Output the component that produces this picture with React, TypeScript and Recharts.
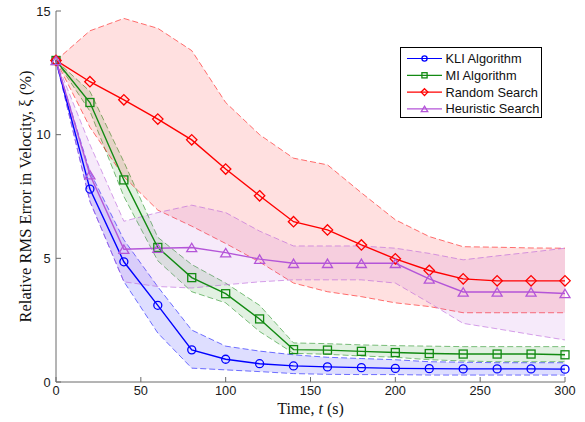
import React from 'react';
import { ComposedChart, Area, Line, XAxis, YAxis, Legend, Label } from 'recharts';

const time = [0, 20, 40, 60, 80, 100, 120, 140, 160, 180, 200, 220, 240, 260, 280, 300];

const kliMean = [13.0, 7.8, 4.86, 3.1, 1.3, 0.92, 0.74, 0.65, 0.61, 0.58, 0.55, 0.54, 0.53, 0.53, 0.53, 0.52];
const kliLow = [13.0, 7.3, 4.06, 1.98, 0.56, 0.49, 0.42, 0.34, 0.31, 0.3, 0.3, 0.28, 0.28, 0.28, 0.28, 0.28];
const kliHigh = [13.0, 8.5, 5.75, 3.85, 2.1, 1.45, 1.25, 1.1, 1.0, 0.95, 0.9, 0.82, 0.8, 0.78, 0.78, 0.78];

const miMean = [13.0, 11.3, 8.17, 5.44, 4.22, 3.57, 2.55, 1.31, 1.29, 1.24, 1.19, 1.15, 1.13, 1.13, 1.13, 1.1];
const miLow = [13.0, 10.95, 7.5, 4.9, 3.65, 3.2, 2.04, 1.16, 1.12, 1.05, 1.0, 0.9, 0.85, 0.82, 0.82, 0.82];
const miHigh = [13.0, 11.75, 8.9, 5.85, 4.75, 4.0, 3.1, 1.58, 1.55, 1.5, 1.47, 1.45, 1.43, 1.43, 1.43, 1.43];

const rndMean = [13.0, 12.14, 11.41, 10.63, 9.79, 8.61, 7.53, 6.48, 6.15, 5.54, 4.98, 4.51, 4.17, 4.09, 4.09, 4.09];
const rndLow = [13.0, 10.3, 8.3, 6.95, 6.3, 5.6, 4.85, 4.0, 3.65, 3.45, 3.2, 3.05, 2.8, 2.8, 2.8, 2.8];
const rndHigh = [13.0, 14.2, 14.7, 14.3, 13.4, 11.3, 10.0, 9.05, 8.78, 7.65, 6.56, 5.88, 5.47, 5.45, 5.42, 5.41];

const heuMean = [13.0, 8.38, 5.37, 5.41, 5.44, 5.23, 4.97, 4.8, 4.8, 4.8, 4.8, 4.17, 3.64, 3.64, 3.64, 3.58];
const heuLow = [13.0, 7.3, 4.05, 3.86, 3.8, 3.93, 4.05, 4.13, 4.13, 4.13, 4.0, 3.2, 2.37, 2.15, 1.92, 1.7];
const heuHigh = [13.0, 9.6, 6.5, 6.85, 7.15, 6.85, 6.1, 5.5, 5.5, 5.5, 5.41, 5.2, 4.94, 5.1, 5.25, 5.41];

const xTicks = [0, 50, 100, 150, 200, 250, 300];
const yTicks = [0, 5, 10, 15];

const seriesNames = ['KLI Algorithm', 'MI Algorithm', 'Random Search', 'Heuristic Search'];

const data = time.map((t, i) => ({
  t,
  kli: kliMean[i],
  kliBand: [kliLow[i], kliHigh[i]],
  mi: miMean[i],
  miBand: [miLow[i], miHigh[i]],
  rnd: rndMean[i],
  rndBand: [rndLow[i], rndHigh[i]],
  heu: heuMean[i],
  heuBand: [heuLow[i], heuHigh[i]],
}));

const series = [
  { key: 'kli', name: seriesNames[0], color: '#0000FF', fillOpacity: 0.13, marker: 'circle' },
  { key: 'mi', name: seriesNames[1], color: '#138A13', fillOpacity: 0.12, marker: 'square' },
  { key: 'rnd', name: seriesNames[2], color: '#FF0000', fillOpacity: 0.12, marker: 'diamond' },
  { key: 'heu', name: seriesNames[3], color: '#B455D8', fillOpacity: 0.12, marker: 'triangle' },
];

function Marker({ shape, cx, cy, color, s = 1 }: any) {
  if (cx == null || cy == null) return null;
  const sw = 1.3;
  if (shape === 'circle') {
    return <circle cx={cx} cy={cy} r={4 * s} fill="none" stroke={color} strokeWidth={sw} />;
  }
  if (shape === 'square') {
    const h = 4 * s;
    return <rect x={cx - h} y={cy - h} width={2 * h} height={2 * h} fill="none" stroke={color} strokeWidth={sw} />;
  }
  if (shape === 'diamond') {
    const d = 5.2 * s;
    return (
      <polygon
        points={`${cx},${cy - d} ${cx + d},${cy} ${cx},${cy + d} ${cx - d},${cy}`}
        fill="none"
        stroke={color}
        strokeWidth={sw}
      />
    );
  }
  const w = 5 * s;
  const hh = 4.2 * s;
  return (
    <polygon
      points={`${cx},${cy - hh} ${cx + w},${cy + hh} ${cx - w},${cy + hh}`}
      fill="none"
      stroke={color}
      strokeWidth={sw}
    />
  );
}

function LegendBox() {
  const rowH = 16.8;
  return (
    <div
      style={{
        width: 142,
        height: 71,
        border: '1px solid #000',
        background: '#fff',
        boxSizing: 'border-box',
      }}
    >
      <svg width={141} height={70} style={{ display: 'block' }}>
        {series.map((s, i) => {
          const y = 10.5 + i * rowH;
          return (
            <g key={s.key}>
              <line x1={6} x2={41} y1={y} y2={y} stroke={s.color} strokeWidth={1.2} />
              <Marker shape={s.marker} cx={23.5} cy={y} color={s.color} s={0.65} />
              <text
                x={44.5}
                y={y}
                dominantBaseline="central"
                fontFamily="'Liberation Sans', Arial, sans-serif"
                fontSize={12.8}
                fill="#111"
              >
                {s.name}
              </text>
            </g>
          );
        })}
      </svg>
    </div>
  );
}

const tickStyle = { fontFamily: "'Liberation Sans', Arial, sans-serif", fontSize: 12.8, fill: '#1a1a1a' };
const titleFont = "'Liberation Serif', 'Times New Roman', serif";

export default function App() {
  return (
    <div style={{ position: 'absolute', left: 0, top: 0, width: 585, height: 422, background: '#fff' }}>
      <ComposedChart
        width={585}
        height={422}
        data={data}
        margin={{ top: 11, right: 20, left: 0, bottom: 0 }}
      >
        <XAxis
          dataKey="t"
          type="number"
          domain={[0, 300]}
          ticks={xTicks}
          height={40}
          tickSize={-5}
          tickMargin={9}
          stroke="#6a6a6a"
          tick={tickStyle}
          interval={0}
        >
          <Label
            content={({ viewBox }: any) => (
              <text
                x={viewBox.x + viewBox.width / 2}
                y={viewBox.y + 26}
                textAnchor="middle"
                dominantBaseline="central"
                fontFamily={titleFont}
                fontSize={16}
                fill="#111"
              >
                Time, <tspan fontStyle="italic">t</tspan> (s)
              </text>
            )}
          />
        </XAxis>
        <YAxis
          type="number"
          domain={[0, 15]}
          ticks={yTicks}
          width={56}
          tickSize={-5}
          tickMargin={10.5}
          stroke="#6a6a6a"
          tick={tickStyle}
          interval={0}
        >
          <Label
            content={({ viewBox }: any) => {
              const cx = viewBox.x + 25;
              const cy = viewBox.y + viewBox.height / 2;
              return (
                <text
                  x={cx}
                  y={cy}
                  transform={`rotate(-90 ${cx} ${cy})`}
                  textAnchor="middle"
                  dominantBaseline="central"
                  fontFamily={titleFont}
                  fontSize={16.5}
                  fill="#111"
                >
                  Relative RMS Error in Velocity, ξ (%)
                </text>
              );
            }}
          />
        </YAxis>
        {series.map((s) => (
          <Area
            key={s.key + 'Band'}
            type="linear"
            dataKey={s.key + 'Band'}
            fill={s.color}
            fillOpacity={s.fillOpacity}
            stroke={s.color}
            strokeOpacity={0.55}
            strokeWidth={1}
            strokeDasharray="6 3"
            isAnimationActive={false}
            legendType="none"
            activeDot={false}
            dot={false}
          />
        ))}
        {series.map((s) => (
          <Line
            key={s.key}
            type="linear"
            dataKey={s.key}
            name={s.name}
            stroke={s.color}
            strokeWidth={1.4}
            isAnimationActive={false}
            activeDot={false}
            dot={(p: any) => <Marker key={s.key + p.index} shape={s.marker} cx={p.cx} cy={p.cy} color={s.color} />}
          />
        ))}
        <Legend
          layout="vertical"
          align="center"
          verticalAlign="middle"
          content={() => <LegendBox />}
          wrapperStyle={{ position: 'absolute', left: 400, top: 47, width: 142, height: 71 }}
        />
      </ComposedChart>
    </div>
  );
}
